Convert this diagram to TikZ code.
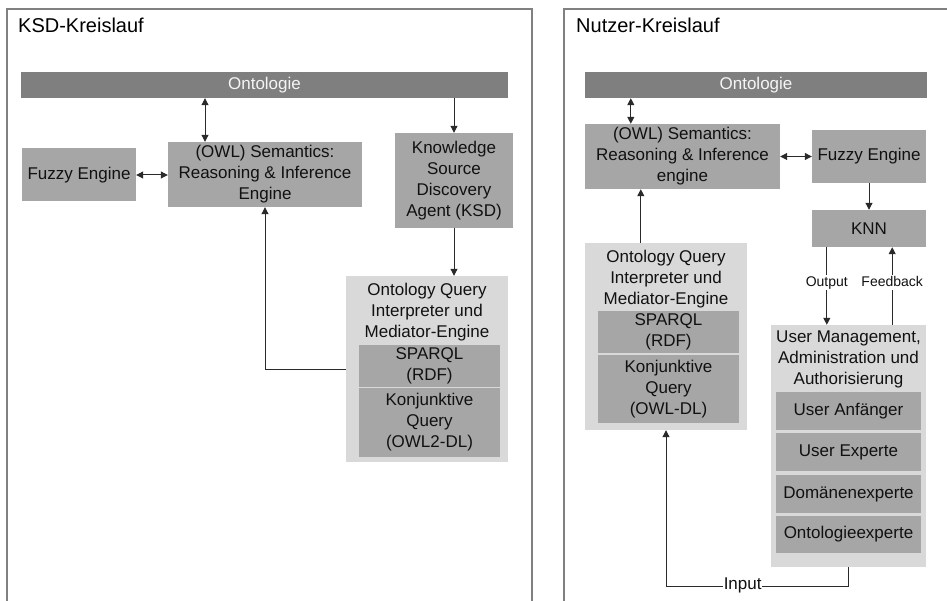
\documentclass[tikz,border=0pt]{standalone}
\usepackage{fontspec}
\setmainfont{Liberation Sans}
\usetikzlibrary{arrows.meta,positioning,calc}
\definecolor{barfill}{HTML}{7F7F7F}
\definecolor{boxfill}{HTML}{A6A6A6}
\definecolor{contfill}{HTML}{D9D9D9}
\definecolor{framegray}{HTML}{808080}
\definecolor{ink}{HTML}{111111}
\definecolor{wire}{HTML}{2A2A2A}
\newcommand{\bx}{\fontsize{17}{21}\selectfont}

\begin{document}
\begin{tikzpicture}[x=1pt, y=-1pt,
  bar/.style={fill=barfill, text=white!92!barfill, inner sep=0pt, font=\bx},
  box/.style={fill=boxfill, text=ink, inner sep=0pt, align=center, font=\bx},
  cont/.style={fill=contfill, inner sep=0pt},
  hd/.style={anchor=north, inner sep=0pt, align=center, font=\bx, text=ink},
  lbl/.style={fill=white, inner sep=1pt, text height=10pt, text depth=3pt,
    font=\fontsize{14}{17}\selectfont, text=ink},
  arr/.style={-{Triangle[length=7pt,width=7pt]}, line width=1pt, draw=wire},
  darr/.style={{Triangle[length=7pt,width=7pt]}-{Triangle[length=7pt,width=7pt]}, line width=1pt, draw=wire},
  panel/.style={draw=framegray, line width=1.2pt}]
  \useasboundingbox (0,0) rectangle (947,601);

  % KSD-Kreislauf
  \draw[panel] (7,601) |- (532,9) -- (532,601);
  \node[anchor=base west, font=\fontsize{20}{24}\selectfont, inner sep=0pt] (t1) at (18,33) {KSD-Kreislauf};
  \node[bar, minimum width=487pt, minimum height=26pt] (ont1) at (264.5,85) {Ontologie};
  \node[box, minimum width=194pt, minimum height=65pt] (sem1) at (265,174.5) {(OWL) Semantics:\\Reasoning \& Inference\\Engine};
  \node[box, minimum width=114pt, minimum height=53pt] (fuz1) at (79,175) {Fuzzy Engine};
  \node[box, minimum width=118pt, minimum height=95pt] (ksd) at (454,180.5) {Knowledge\\Source\\Discovery\\Agent (KSD)};
  \node[cont, minimum width=162pt, minimum height=186pt] (oq1) at (427,369) {};
  \node[hd] (oqt1) at ([yshift=-7]oq1.north) {Ontology Query\\Interpreter und\\Mediator-Engine};
  \node[box, minimum width=141pt, minimum height=42pt] (sp1) at (429.5,366) {SPARQL\\(RDF)};
  \node[box, minimum width=141pt, minimum height=69pt] (kq1) at (429.5,422.5) {Konjunktive\\Query\\(OWL2-DL)};

  \draw[darr] ([xshift=-60]sem1.north |- ont1.south) -- ([xshift=-60]sem1.north);
  \draw[darr] (fuz1.east) -- (fuz1.east -| sem1.west);
  \draw[arr] (ksd.north |- ont1.south) -- (ksd.north);
  \draw[arr] (ksd.south) -- (ksd.south |- oq1.north);
  \draw[arr] (oq1.west) -| (sem1.south);

  % Nutzer-Kreislauf
  \draw[panel] (564,601) |- (947,9);
  \node[anchor=base west, font=\fontsize{20}{24}\selectfont, inner sep=0pt] (t2) at (576,33) {Nutzer-Kreislauf};
  \node[bar, minimum width=342pt, minimum height=26pt] (ont2) at (756,85) {Ontologie};
  \node[box, minimum width=195pt, minimum height=65pt] (sem2) at (682.5,156.5) {(OWL) Semantics:\\Reasoning \& Inference\\engine};
  \node[box, minimum width=114pt, minimum height=53pt] (fuz2) at (869,156.5) {Fuzzy Engine};
  \node[box, minimum width=114pt, minimum height=37pt] (knn) at (869,228.5) {KNN};
  \node[cont, minimum width=162pt, minimum height=187pt] (oq2) at (666,336.5) {};
  \node[hd] (oqt2) at ([yshift=-7]oq2.north) {Ontology Query\\Interpreter und\\Mediator-Engine};
  \node[box, minimum width=141pt, minimum height=42pt] (sp2) at (668.5,332) {SPARQL\\(RDF)};
  \node[box, minimum width=141pt, minimum height=68pt] (kq2) at (668.5,389) {Konjunktive\\Query\\(OWL-DL)};
  \node[cont, minimum width=155pt, minimum height=242pt] (um) at (848.5,446) {};
  \node[hd] (umt) at ([yshift=-6]um.north) {User Management,\\Administration und\\Authorisierung};
  \node[box, minimum width=145pt, minimum height=38pt] (ua) at (848.5,411) {User Anfänger};
  \node[box, minimum width=145pt, minimum height=38pt] (ue) at (848.5,452) {User Experte};
  \node[box, minimum width=145pt, minimum height=38pt] (de) at (848.5,494) {Domänenexperte};
  \node[box, minimum width=145pt, minimum height=37pt] (oe) at (848.5,534.5) {Ontologieexperte};

  \draw[darr] ([xshift=46]sem2.north west |- ont2.south) -- ([xshift=46]sem2.north west);
  \draw[darr] (sem2.east) -- (fuz2.west);
  \draw[arr] (fuz2.south) -- (knn.north);
  \draw[arr] ([xshift=15]knn.south west) -- ([xshift=15]knn.south west |- um.north)
    node[lbl, midway, yshift=3] {Output};
  \draw[arr] ([xshift=-34]knn.south east |- um.north) -- ([xshift=-34]knn.south east)
    node[lbl, midway, yshift=3] {Feedback};
  \draw[arr] ([xshift=56]oq2.north west) -- ([xshift=56]oq2.north west |- sem2.south);
  \draw[arr] (um.south) -- ++(0,19) coordinate (in1) -- (in1 -| oq2.south)
    node[lbl, font=\bx, inner sep=0.5pt, pos=0.58] {Input} -- (oq2.south);
\end{tikzpicture}
\end{document}
